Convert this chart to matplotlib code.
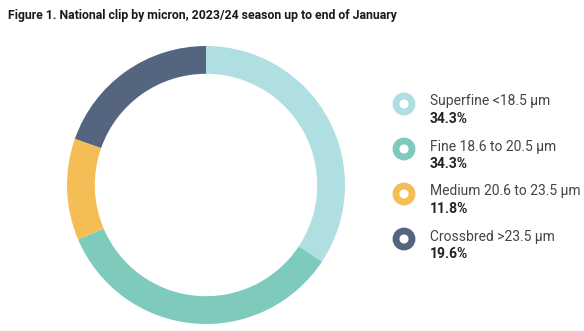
import matplotlib.pyplot as plt
from matplotlib.patches import Circle

# data
categories = ["Superfine <18.5 \u03bcm", "Fine 18.6 to 20.5 \u03bcm",
              "Medium 20.6 to 23.5 \u03bcm", "Crossbred >23.5 \u03bcm"]
shares = [34.3, 34.3, 11.8, 19.6]
colors = ["#b0dfe2", "#7ecbbd", "#f5bd55", "#55647f"]

W, H = 584, 331
plt.rcParams['font.family'] = ['Roboto', 'DejaVu Sans']

fig = plt.figure(figsize=(W / 100, H / 100), dpi=100)
ax = fig.add_axes([0, 0, 1, 1])

# donut, in pixel units (y measured from the bottom)
ax.pie(shares, colors=colors, startangle=90, counterclock=False,
       center=(206, H - 185), radius=139,
       wedgeprops=dict(width=139 * 0.2, linewidth=0))

ax.set_xlim(0, W)
ax.set_ylim(0, H)
ax.set_aspect('equal')
ax.axis('off')

fig.text(8 / W, 1 - 15 / H,
         "Figure 1. National clip by micron, 2023/24 season up to end of January",
         fontsize=8.8, fontweight='bold', color='#1a1a1a', va='center', ha='left')

# legend
y0 = 104
step = 45
for i, (lab, val, c) in enumerate(zip(categories, shares, colors)):
    yc = y0 + i * step
    ax.add_patch(Circle((404, H - yc), 8, facecolor='white', edgecolor=c,
                        linewidth=4.9))
    ax.text(430, H - yc + 2.5, lab, fontsize=10, color='#444444',
            va='center', ha='left')
    ax.text(430, H - yc - 15, "%.1f%%" % val, fontsize=10, fontweight='bold',
            color='#222222', va='center', ha='left')

fig.savefig("out.png", dpi=100)
